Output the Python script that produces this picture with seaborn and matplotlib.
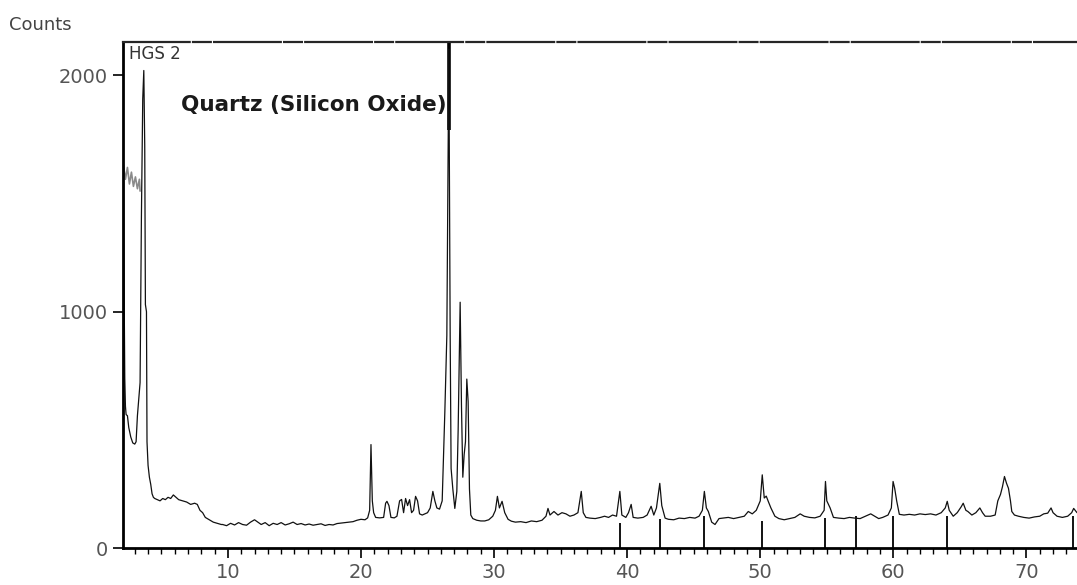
import numpy as np
import pandas as pd
import matplotlib.pyplot as plt
import seaborn as sns

# %%

# 2theta / counts
two_theta = [
    2.15, 2.20, 2.25, 2.30, 2.35, 2.45, 2.55, 2.70, 2.85, 3.00, 3.10, 3.20, 3.30, 3.40,
    3.50, 3.60, 3.68, 3.75, 3.80, 3.88, 3.92, 4.00, 4.10, 4.20, 4.30, 4.40, 4.50, 4.70,
    4.90, 5.10, 5.30, 5.50, 5.70, 5.90, 6.10, 6.30, 6.60, 6.90, 7.20, 7.50, 7.70, 7.90,
    8.10, 8.30, 8.60, 8.90, 9.20, 9.50,
    9.60, 9.90, 10.2, 10.5, 10.8, 11.1, 11.4, 11.7, 12.0, 12.2, 12.5, 12.8, 13.1, 13.4,
    13.7, 14.0, 14.3, 14.6, 14.9, 15.2, 15.5, 15.8, 16.1, 16.4, 16.7, 17.0, 17.3, 17.6,
    17.9, 18.2, 18.5, 18.8, 19.1, 19.4, 19.7, 20.0, 20.3, 20.5, 20.65, 20.75, 20.85, 20.95,
    21.1, 21.4, 21.7, 21.85, 21.95, 22.1, 22.25, 22.5, 22.7, 22.9, 23.05, 23.2, 23.35, 23.5,
    23.65, 23.8, 23.95, 24.1, 24.25, 24.4, 24.6, 24.8, 25.0, 25.2, 25.4, 25.55, 25.7, 25.9,
    26.1, 26.3, 26.45, 26.6, 26.7, 26.77, 26.9, 27.05, 27.2, 27.3, 27.45, 27.55, 27.65, 27.75,
    27.85, 27.95, 28.05, 28.15, 28.25, 28.4, 28.7, 29.0, 29.3, 29.6, 29.9, 30.1, 30.25, 30.4,
    30.6, 30.8, 31.05, 31.3, 31.6, 32.0, 32.4, 32.8, 33.2, 33.6, 33.9, 34.05, 34.2, 34.5,
    34.8, 35.1, 35.4, 35.7, 36.0, 36.3, 36.55, 36.7, 36.9, 37.2, 37.6, 38.0, 38.3, 38.6,
    38.9, 39.2, 39.45, 39.6, 39.9, 40.1, 40.3, 40.45, 40.8, 41.2, 41.5, 41.8, 42.0, 42.2,
    42.45, 42.6, 42.85, 43.1, 43.5, 43.9, 44.3, 44.7, 45.1, 45.4, 45.65, 45.8, 45.95, 46.1,
    46.35, 46.6, 46.9, 47.2, 47.6, 48.0, 48.4, 48.8, 49.1, 49.4, 49.7, 50.0, 50.15, 50.3,
    50.45, 50.6, 50.8, 51.1, 51.4, 51.8, 52.2, 52.6, 53.0, 53.3, 53.7, 54.1, 54.5, 54.8,
    54.9, 55.0, 55.25, 55.5, 55.9, 56.3, 56.7, 57.1, 57.5, 57.9, 58.3, 58.6, 58.9, 59.2,
    59.6, 59.85, 59.98, 60.1, 60.25, 60.45, 60.8, 61.2, 61.6, 62.0, 62.4, 62.8, 63.2, 63.6,
    63.9, 64.05, 64.2, 64.5, 64.8, 65.1, 65.25, 65.45, 65.6, 65.9, 66.2, 66.5, 66.7, 66.9,
    67.3, 67.65, 67.85, 68.05, 68.2, 68.35, 68.5, 68.65, 68.8, 68.9, 69.1, 69.4, 69.8, 70.2,
    70.6, 71.0, 71.3, 71.6, 71.85, 72.0, 72.3, 72.7, 73.1, 73.4, 73.55, 73.8,
]
counts = [
    1600, 1100, 720, 600, 565, 560, 510, 470, 445, 440, 450, 560, 630, 700,
    1400, 1900, 2020, 1700, 1030, 1000, 450, 350, 300, 270, 230, 215, 210, 205,
    200, 210, 205, 215, 210, 225, 215, 205, 200, 195, 185, 190, 185, 160,
    150, 130, 120, 110, 105, 100,
    100, 95, 105, 98, 108, 100, 97, 110, 120, 112, 100, 108, 95, 105,
    100, 108, 98, 103, 110, 100, 104, 98, 102, 97, 100, 103, 96, 100,
    98, 104, 106, 108, 110, 112, 118, 122, 120, 128, 160, 438, 200, 150,
    130, 128, 130, 190, 198, 180, 130, 128, 135, 200, 206, 150, 210, 180,
    205, 150, 160, 219, 200, 145, 140, 145, 150, 170, 240, 200, 170, 165,
    200, 577, 900, 2110, 900, 337, 250, 168, 240, 500, 1040, 600, 300, 395,
    450, 715, 620, 250, 140, 125, 118, 115, 115, 120, 135, 160, 219, 170,
    198, 150, 122, 114, 110, 112, 108, 115, 112, 118, 135, 168, 140, 155,
    140, 150, 145, 135, 140, 150, 240, 150, 130, 127, 125, 130, 135, 130,
    140, 135, 240, 140, 130, 150, 185, 130, 127, 130, 140, 177, 140, 170,
    274, 180, 127, 122, 120, 127, 125, 130, 127, 135, 160, 240, 170, 155,
    110, 100, 125, 127, 130, 125, 130, 135, 155, 145, 160, 200, 310, 212,
    220, 198, 170, 135, 125, 120, 125, 130, 145, 135, 130, 128, 135, 160,
    282, 200, 170, 130, 127, 125, 130, 127, 125, 135, 145, 135, 125, 130,
    140, 170, 282, 253, 200, 143, 140, 143, 140, 145, 142, 145, 140, 150,
    170, 198, 160, 135, 150, 175, 190, 160, 155, 140, 150, 170, 150, 135,
    135, 140, 200, 227, 260, 303, 275, 253, 200, 155, 140, 135, 130, 127,
    132, 135, 145, 148, 170, 150, 135, 130, 135, 150, 168, 150,
]

# grey low-angle trace
two_theta_low = [2.15, 2.3, 2.45, 2.6, 2.75, 2.9, 3.05, 3.2, 3.35, 3.4]
counts_low = [1620, 1560, 1610, 1540, 1590, 1530, 1570, 1520, 1560, 1510]

# quartz reference sticks
stick_pos = [39.46, 42.45, 45.79, 50.14, 54.87, 57.2, 59.96, 64.03, 73.47]
stick_h = [107, 122, 135, 114, 127, 135, 135, 135, 135]

# %%

df = pd.DataFrame({'two_theta': two_theta, 'counts': counts})
df_low = pd.DataFrame({'two_theta': two_theta_low, 'counts': counts_low})

sns.set_style('ticks')
plt.rcParams['font.family'] = ['DejaVu Sans']

fig = plt.figure(figsize=(10.77, 5.85), dpi=100)
ax = fig.add_axes([0.114, 0.063, 0.886, 0.865])

ax.vlines(stick_pos, 0, stick_h, color='black', lw=1.3)
ax.vlines(26.64, 1770, 2140, color='black', lw=2.6)

sns.lineplot(data=df_low, x='two_theta', y='counts', color='#8a8a8a', lw=1.2,
             estimator=None, sort=False, ax=ax)
sns.lineplot(data=df, x='two_theta', y='counts', color='#111111', lw=0.9,
             estimator=None, sort=False, ax=ax)

ax.set_xlim(2.1, 73.8)
ax.set_ylim(0, 2140)
ax.set_xticks(range(10, 71, 10))
ax.set_xticks(range(3, 74), minor=True)
ax.set_yticks([0, 1000, 2000])
ax.set_xlabel('')
ax.set_ylabel('')

ax.tick_params(axis='both', which='major', direction='out', length=7, width=1.2,
               labelsize=14, labelcolor='#555555', color='black')
ax.tick_params(axis='x', which='minor', direction='out', length=4, width=1.0, color='black')

for side in ['left', 'bottom']:
    ax.spines[side].set_linewidth(2.0)
    ax.spines[side].set_color('black')
ax.spines['right'].set_visible(False)
ax.spines['top'].set_linewidth(1.6)
ax.spines['top'].set_linestyle((0, (30, 1.5, 8, 1.5)))

ax.text(2.6, 2090, 'HGS 2', fontsize=12, color='#333333', ha='left', va='center')
ax.text(26.45, 1873, 'Quartz (Silicon Oxide)', fontsize=15.5, fontweight='bold',
        color='#1a1a1a', ha='right', va='center')
fig.text(0.008, 0.957, 'Counts', fontsize=13, color='#444444', ha='left', va='center')

plt.savefig('out.png', dpi=100)
